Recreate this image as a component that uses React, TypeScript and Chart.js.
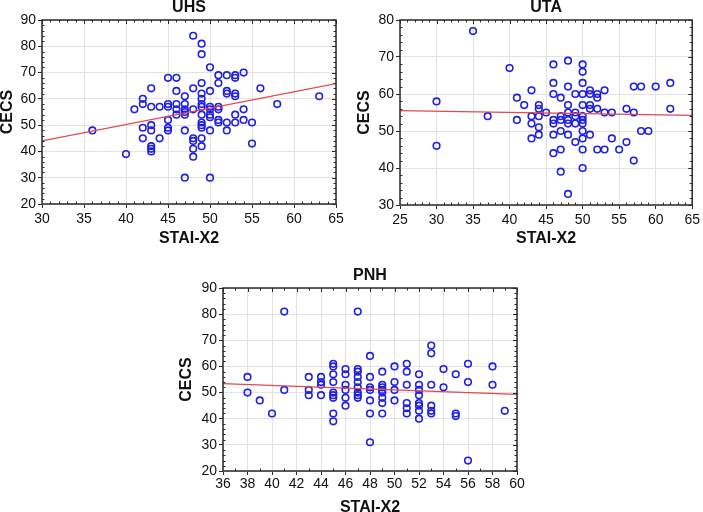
import React, { useEffect, useRef } from 'react';
import { Chart, registerables } from 'chart.js';

Chart.register(...registerables);
Chart.defaults.font.family = '"Liberation Sans", Arial, Helvetica, sans-serif';

// ---------- UHS ----------
const uhsX = [36, 40, 41, 42, 42, 42, 42, 43, 43, 43, 43, 43, 43, 43, 44, 44, 45, 45, 45, 45, 45, 45, 46, 46, 46, 46, 46, 47, 47, 47, 47, 47, 47, 47, 48, 48, 48, 48, 48, 48, 48, 49, 49, 49, 49, 49, 49, 49, 49, 49, 49, 49, 49, 49, 50, 50, 50, 50, 50, 50, 50, 50, 51, 51, 51, 51, 51, 51, 52, 52, 52, 52, 52, 53, 53, 53, 53, 53, 53, 54, 54, 54, 55, 55, 56, 58, 63];
const uhsY = [48, 39, 56, 60, 58, 49, 45, 64, 57, 50, 48, 42, 41, 40, 57, 45, 68, 58, 57, 52, 49, 48, 68, 63, 58, 56, 54, 61, 58, 56, 55, 54, 48, 30, 84, 64, 56, 45, 44, 41, 38, 81, 77, 66, 62, 60, 58, 57, 54, 51, 50, 49, 45, 42, 72, 63, 57, 56, 54, 53, 48, 30, 69, 66, 57, 56, 52, 51, 69, 63, 62, 51, 48, 69, 68, 62, 61, 54, 51, 70, 56, 52, 51, 43, 64, 58, 61];
const uhsFit = [44.0, 65.8];
const uhsXTicks = [30, 35, 40, 45, 50, 55, 60, 65];
const uhsYTicks = [20, 30, 40, 50, 60, 70, 80, 90];

// ---------- UTA ----------
const utaX = [30, 30, 35, 37, 40, 41, 41, 42, 43, 43, 43, 43, 44, 44, 44, 44, 44, 45, 46, 46, 46, 46, 46, 46, 46, 47, 47, 47, 47, 47, 47, 48, 48, 48, 48, 48, 48, 48, 48, 49, 49, 49, 49, 49, 50, 50, 50, 50, 50, 50, 50, 50, 50, 50, 50, 50, 51, 51, 51, 51, 51, 52, 52, 52, 52, 53, 53, 53, 54, 54, 55, 56, 56, 57, 57, 57, 58, 58, 59, 60, 62, 62];
const utaY = [58, 46, 77, 54, 67, 59, 53, 57, 61, 54, 52, 48, 57, 56, 54, 51, 49, 55, 68, 63, 60, 53, 52, 49, 44, 59, 54, 53, 50, 45, 39, 69, 62, 57, 55, 53, 52, 49, 33, 60, 55, 54, 52, 47, 68, 66, 63, 60, 57, 54, 53, 52, 50, 48, 45, 40, 61, 60, 57, 56, 49, 60, 59, 56, 45, 61, 55, 45, 55, 48, 45, 56, 47, 62, 55, 42, 62, 50, 50, 62, 63, 56];
const utaFit = [55.5, 54.2];
const utaXTicks = [25, 30, 35, 40, 45, 50, 55, 60, 65];
const utaYTicks = [30, 40, 50, 60, 70, 80];

// ---------- PNH ----------
const pnhX = [38, 38, 39, 40, 41, 41, 43, 43, 43, 44, 44, 44, 44, 45, 45, 45, 45, 45, 45, 45, 45, 45, 46, 46, 46, 46, 46, 46, 47, 47, 47, 47, 47, 47, 47, 47, 47, 48, 48, 48, 48, 48, 48, 48, 49, 49, 49, 49, 49, 49, 49, 49, 50, 50, 50, 50, 51, 51, 51, 51, 51, 51, 52, 52, 52, 52, 52, 52, 52, 52, 53, 53, 53, 53, 53, 53, 54, 54, 55, 55, 55, 56, 56, 56, 58, 58, 59];
const pnhY = [56, 50, 47, 42, 81, 51, 56, 51, 49, 56, 54, 53, 49, 61, 60, 57, 54, 50, 49, 48, 42, 39, 59, 57, 53, 51, 48, 45, 81, 59, 58, 56, 54, 52, 50, 49, 48, 64, 56, 52, 51, 47, 42, 31, 58, 53, 52, 51, 50, 48, 46, 42, 60, 54, 51, 47, 61, 58, 53, 46, 44, 42, 57, 53, 51, 49, 46, 45, 43, 40, 68, 65, 53, 45, 43, 42, 59, 52, 57, 42, 41, 61, 54, 24, 60, 53, 43];
const pnhFit = [53.4, 49.3];
const pnhXTicks = [36, 38, 40, 42, 44, 46, 48, 50, 52, 54, 56, 58, 60];
const pnhYTicks = [20, 30, 40, 50, 60, 70, 80, 90];

const X_TITLE = 'STAI-X2';
const Y_TITLE = 'CECS';

type PanelCfg = {
  title: string;
  xs: number[];
  ys: number[];
  fit: number[];
  xTicks: number[];
  yTicks: number[];
  xMinor: number;
  yMinor: number;
  left: number;
  top: number;
  w: number;
  h: number;
  padRight: number;
  titlePadTop: number;
  titlePadBottom: number;
  xAxisH: number;
  xTickPad: number;
  xTitlePadBottom: number;
  yAxisW: number;
  yTitlePadTop: number;
};

const frameTicks = {
  id: 'frameTicks',
  afterDatasetsDraw(chart: any, _args: any, opts: any) {
    const { ctx, chartArea: a, scales } = chart;
    const xs = scales.x;
    const ys = scales.y;
    ctx.save();
    ctx.strokeStyle = '#2a2a2a';
    ctx.lineWidth = 1.5;
    ctx.strokeRect(a.left, a.top, a.right - a.left, a.bottom - a.top);
    ctx.lineWidth = 1;
    ctx.beginPath();
    const xStep = opts.xStep / opts.xMinor;
    let i = 0;
    for (let v = xs.min; v <= xs.max + 1e-9; v = xs.min + (++i) * xStep) {
      const px = Math.round(xs.getPixelForValue(v)) + 0.5;
      const major = i % opts.xMinor === 0;
      const L = major ? 4 : 2.5;
      ctx.moveTo(px, a.top);
      ctx.lineTo(px, a.top + L);
      if (!major) {
        ctx.moveTo(px, a.bottom);
        ctx.lineTo(px, a.bottom - L);
      }
    }
    const yStep = opts.yStep / opts.yMinor;
    i = 0;
    for (let v = ys.min; v <= ys.max + 1e-9; v = ys.min + (++i) * yStep) {
      const py = Math.round(ys.getPixelForValue(v)) + 0.5;
      const major = i % opts.yMinor === 0;
      const L = major ? 4 : 2.5;
      ctx.moveTo(a.right, py);
      ctx.lineTo(a.right - L, py);
      if (!major) {
        ctx.moveTo(a.left, py);
        ctx.lineTo(a.left + L, py);
      }
    }
    ctx.stroke();
    ctx.restore();
  },
};

function Panel({ cfg }: { cfg: PanelCfg }) {
  const ref = useRef<HTMLCanvasElement>(null);
  useEffect(() => {
    const xMin = cfg.xTicks[0];
    const xMax = cfg.xTicks[cfg.xTicks.length - 1];
    const yMin = cfg.yTicks[0];
    const yMax = cfg.yTicks[cfg.yTicks.length - 1];
    const xStep = cfg.xTicks[1] - cfg.xTicks[0];
    const yStep = cfg.yTicks[1] - cfg.yTicks[0];
    const points = cfg.xs.map((x, i) => ({ x, y: cfg.ys[i] }));
    const chart = new Chart(ref.current as HTMLCanvasElement, {
      type: 'scatter',
      data: {
        datasets: [
          {
            type: 'line',
            data: [
              { x: xMin, y: cfg.fit[0] },
              { x: xMax, y: cfg.fit[1] },
            ],
            borderColor: '#e24a4a',
            borderWidth: 1.2,
            pointRadius: 0,
            fill: false,
          } as any,
          {
            type: 'scatter',
            data: points,
            pointStyle: 'circle',
            radius: 3.3,
            borderWidth: 1.6,
            borderColor: '#2020e0',
            backgroundColor: 'rgba(0,0,0,0)',
          } as any,
        ],
      },
      options: {
        responsive: false,
        animation: false,
        events: [],
        layout: { padding: { left: 0, right: cfg.padRight, top: 0, bottom: 0 } },
        plugins: {
          legend: { display: false },
          tooltip: { enabled: false },
          title: {
            display: true,
            text: cfg.title,
            fullSize: false,
            color: '#111',
            font: { size: 16, weight: 'bold', lineHeight: 1 },
            padding: { top: cfg.titlePadTop, bottom: cfg.titlePadBottom },
          },
          frameTicks: { xStep, yStep, xMinor: cfg.xMinor, yMinor: cfg.yMinor },
        } as any,
        scales: {
          x: {
            type: 'linear',
            min: xMin,
            max: xMax,
            ticks: {
              stepSize: xStep,
              color: '#111',
              font: { size: 14 },
              padding: cfg.xTickPad,
              maxRotation: 0,
              autoSkip: false,
            },
            grid: { color: '#e2e2e2', tickColor: '#2a2a2a', tickLength: 4, lineWidth: 1 },
            border: { display: false },
            title: {
              display: true,
              text: X_TITLE,
              color: '#111',
              font: { size: 16, weight: 'bold', lineHeight: 1 },
              padding: { top: 0, bottom: cfg.xTitlePadBottom },
            },
            afterFit: (s: any) => {
              s.height = cfg.xAxisH;
            },
          },
          y: {
            type: 'linear',
            min: yMin,
            max: yMax,
            ticks: {
              stepSize: yStep,
              color: '#111',
              font: { size: 14 },
              padding: 2,
            },
            grid: { color: '#e2e2e2', tickColor: '#2a2a2a', tickLength: 4, lineWidth: 1 },
            border: { display: false },
            title: {
              display: true,
              text: Y_TITLE,
              color: '#111',
              font: { size: 16, weight: 'bold', lineHeight: 1 },
              padding: { top: cfg.yTitlePadTop, bottom: 0 },
            },
            afterFit: (s: any) => {
              s.width = cfg.yAxisW;
            },
          },
        },
      } as any,
      plugins: [frameTicks],
    });
    return () => chart.destroy();
  }, [cfg]);
  return (
    <canvas
      ref={ref}
      width={cfg.w}
      height={cfg.h}
      style={{ position: 'absolute', left: cfg.left, top: cfg.top, width: cfg.w, height: cfg.h, display: 'block' }}
    />
  );
}

const panels: PanelCfg[] = [
  {
    title: 'UHS', xs: uhsX, ys: uhsY, fit: uhsFit, xTicks: uhsXTicks, yTicks: uhsYTicks,
    xMinor: 5, yMinor: 5,
    left: 0, top: 0, w: 350, h: 250, padRight: 14,
    titlePadTop: 0, titlePadBottom: 4,
    xAxisH: 46, xTickPad: 3, xTitlePadBottom: 3,
    yAxisW: 42, yTitlePadTop: 0,
  },
  {
    title: 'UTA', xs: utaX, ys: utaY, fit: utaFit, xTicks: utaXTicks, yTicks: utaYTicks,
    xMinor: 5, yMinor: 5,
    left: 350, top: 0, w: 353, h: 250, padRight: 9,
    titlePadTop: 0, titlePadBottom: 4,
    xAxisH: 45, xTickPad: 3, xTitlePadBottom: 3,
    yAxisW: 50, yTitlePadTop: 6.5,
  },
  {
    title: 'PNH', xs: pnhX, ys: pnhY, fit: pnhFit, xTicks: pnhXTicks, yTicks: pnhYTicks,
    xMinor: 2, yMinor: 5,
    left: 170, top: 250, w: 360, h: 270, padRight: 13,
    titlePadTop: 18, titlePadBottom: 4,
    xAxisH: 49, xTickPad: 1, xTitlePadBottom: 4.5,
    yAxisW: 53, yTitlePadTop: 8.7,
  },
];

export default function App() {
  return (
    <div
      style={{
        position: 'absolute',
        left: 0,
        top: 0,
        width: 703,
        height: 512,
        overflow: 'hidden',
        background: '#ffffff',
      }}
    >
      {panels.map((p) => (
        <Panel key={p.title} cfg={p} />
      ))}
    </div>
  );
}
